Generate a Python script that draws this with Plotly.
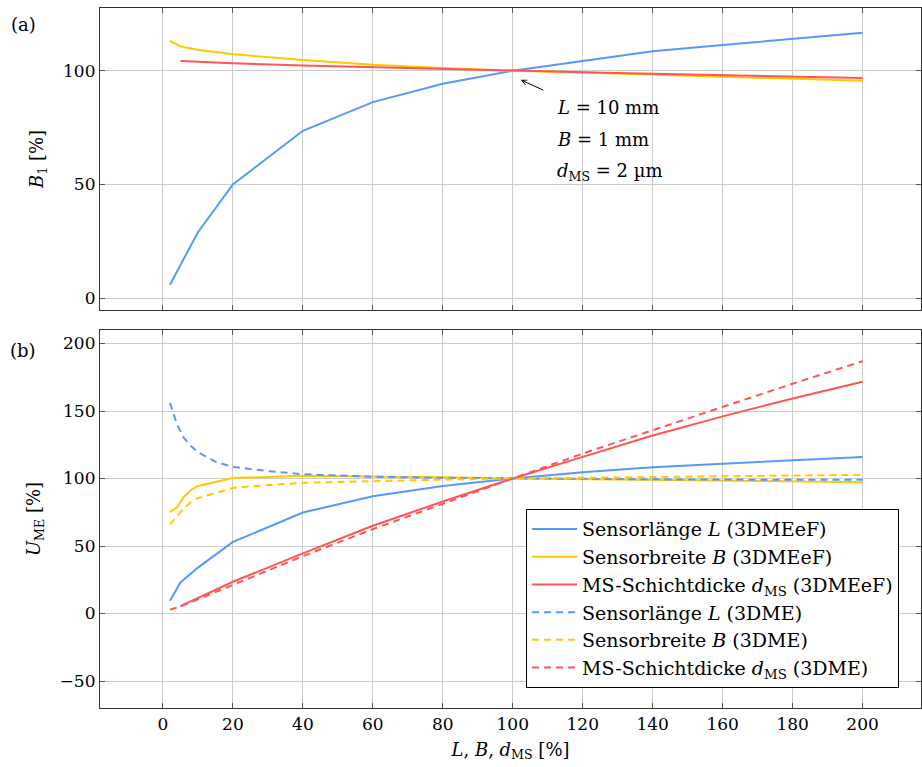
import plotly.graph_objects as go
from plotly.subplots import make_subplots

# ---------------- data ----------------
# (a) B1 [%]
x_top_L = [2, 10, 20, 40, 60, 80, 100, 120, 140, 160, 180, 200]
B1_L = [5.9, 29, 50, 73.6, 86.2, 94.3, 100, 104.4, 108.6, 111.3, 114.1, 116.7]
x_top_B = [2, 5, 10, 20, 40, 60, 80, 100, 120, 140, 160, 180, 200]
B1_B = [113.1, 110.7, 109.2, 107.3, 104.7, 102.6, 101.2, 100, 99.2, 98.3, 97.4, 96.5, 95.6]
x_top_d = [5, 20, 40, 60, 80, 100, 120, 140, 160, 180, 200]
B1_d = [104.3, 103.3, 102.3, 101.5, 100.8, 100, 99.4, 98.7, 98.1, 97.4, 96.8]

# (b) U_ME [%]  (3DMEeF = solid, 3DME = dashed)
x_L_eF = [2, 5, 10, 20, 40, 60, 80, 100, 120, 140, 160, 180, 200]
U_L_eF = [9.5, 23, 34, 53, 74.8, 86.8, 94.5, 100, 104.7, 108.3, 111, 113.7, 116]
x_B_eF = [2, 4, 6, 8, 10, 20, 40, 60, 80, 100, 120, 140, 160, 180, 200]
U_B_eF = [75.3, 78.5, 86.5, 91.5, 94.5, 100.3, 102, 101.7, 101, 100, 99.5, 99, 98.5, 97.9, 97.3]
x_d_eF = [5, 10, 20, 40, 60, 80, 100, 120, 140, 160, 180, 200]
U_d_eF = [5.5, 11.5, 23.5, 44.5, 65, 83, 100, 116, 131.9, 146, 159.3, 171.6]

x_L_3 = [2, 4, 6, 8, 10, 15, 20, 30, 40, 60, 80, 100, 120, 140, 160, 180, 200]
U_L_3 = [156, 140, 130, 124, 119.5, 112.5, 108.6, 105.5, 103.2, 101.3, 100.5, 100, 99.6, 99.4, 99.2, 99.1, 99.0]
x_B_3 = [2, 4, 6, 8, 10, 20, 30, 40, 60, 80, 100, 120, 140, 160, 180, 200]
U_B_3 = [66, 72, 78, 82.5, 85.5, 93, 95.2, 96.8, 98.2, 99.2, 100, 100.6, 101.2, 101.7, 102.2, 102.7]
x_d_3 = [2, 5, 10, 20, 40, 60, 80, 100, 120, 140, 160, 180, 200]
U_d_3 = [2.8, 5.3, 10.5, 21, 42.5, 62.5, 81.5, 100, 118.5, 136, 153, 170.2, 186.9]

x_ticks = [0, 20, 40, 60, 80, 100, 120, 140, 160, 180, 200]
y_ticks_top = [0, 50, 100]
y_ticks_bot = [-50, 0, 50, 100, 150, 200]

legend_names = [
    "Sensorlänge <i>L</i> (3DMEeF)",
    "Sensorbreite <i>B</i> (3DMEeF)",
    "MS-Schichtdicke <i>d</i><sub>MS</sub> (3DMEeF)",
    "Sensorlänge <i>L</i> (3DME)",
    "Sensorbreite <i>B</i> (3DME)",
    "MS-Schichtdicke <i>d</i><sub>MS</sub> (3DME)",
]

# ---------------- style ----------------
BLUE = "#5599ff"
YELLOW = "#ffc800"
RED = "#ff5555"
FONT = "DejaVu Serif"
FS_TICK = 17
FS = 18
FS_LEG = 19
GRID = "#cccccc"
DASH = "7px,5px"
LW = 2

fig = make_subplots(rows=2, cols=1, shared_xaxes=False)

# top panel
fig.add_trace(go.Scatter(x=x_top_L, y=B1_L, mode="lines", line=dict(color=BLUE, width=LW), showlegend=False), row=1, col=1)
fig.add_trace(go.Scatter(x=x_top_B, y=B1_B, mode="lines", line=dict(color=YELLOW, width=LW), showlegend=False), row=1, col=1)
fig.add_trace(go.Scatter(x=x_top_d, y=B1_d, mode="lines", line=dict(color=RED, width=LW), showlegend=False), row=1, col=1)

# bottom panel
series = [
    (x_L_eF, U_L_eF, BLUE, "solid"),
    (x_B_eF, U_B_eF, YELLOW, "solid"),
    (x_d_eF, U_d_eF, RED, "solid"),
    (x_L_3, U_L_3, BLUE, DASH),
    (x_B_3, U_B_3, YELLOW, DASH),
    (x_d_3, U_d_3, RED, DASH),
]
for (xs, ys, c, d), name in zip(series, legend_names):
    fig.add_trace(go.Scatter(x=xs, y=ys, mode="lines", name=name,
                             line=dict(color=c, width=LW, dash=d)), row=2, col=1)

axis_common = dict(
    showline=True, linecolor="#333333", linewidth=1.2, mirror="ticks",
    ticks="inside", ticklen=5, tickcolor="#555555", tickwidth=1,
    showgrid=True, gridcolor=GRID, gridwidth=1, zeroline=False,
    tickfont=dict(family=FONT, size=FS_TICK, color="black"),
)

X_RANGE = [-18, 216.7]
fig.update_layout(
    xaxis=dict(domain=[0, 1], anchor="y", range=X_RANGE, tickvals=x_ticks,
               showticklabels=False, **axis_common),
    yaxis=dict(domain=[0.5686, 1.0], anchor="x", range=[-5.2, 127.6], tickvals=y_ticks_top,
               title=dict(text="<i>B</i><sub>1</sub> [%]", font=dict(family=FONT, size=FS), standoff=14),
               **axis_common),
    xaxis2=dict(domain=[0, 1], anchor="y2", range=X_RANGE, tickvals=x_ticks,
                title=dict(text="<i>L</i>, <i>B</i>, <i>d</i><sub>MS</sub> [%]", font=dict(family=FONT, size=FS), standoff=10),
                **axis_common),
    yaxis2=dict(domain=[0, 0.54], anchor="x2", range=[-70, 210], tickvals=y_ticks_bot,
                title=dict(text="<i>U</i><sub>ME</sub> [%]", font=dict(family=FONT, size=FS), standoff=14),
                **axis_common),
)

fig.update_layout(
    width=922, height=767,
    margin=dict(l=100, r=1, t=8, b=59),
    paper_bgcolor="white", plot_bgcolor="white",
    font=dict(family=FONT, size=FS, color="black"),
    legend=dict(x=0.519, y=0.284, xanchor="left", yanchor="top",
                bgcolor="white", bordercolor="black", borderwidth=1, itemwidth=45,
                font=dict(family=FONT, size=FS_LEG), tracegroupgap=0),
    showlegend=True,
)

# annotations
fig.add_annotation(x=102.3, y=96.0, xref="x", yref="y", ax=24, ay=11,
                   showarrow=True, arrowhead=5, arrowsize=1, arrowwidth=1, arrowcolor="black", text="")
ann_lines = [("<i>L</i> = 10 mm", 83.7), ("<i>B</i> = 1 mm", 69.6), ("<i>d</i><sub>MS</sub> = 2 µm", 55.6)]
for t, yv in ann_lines:
    fig.add_annotation(x=112.1, y=yv, xref="x", yref="y", text=t, showarrow=False,
                       xanchor="left", yanchor="middle", font=dict(family=FONT, size=FS))

# panel labels, positioned via pixel-equivalent paper coordinates
W_plot = 922 - 100 - 1
H_plot = 767 - 8 - 59
def px_to_paper(px, py):
    return (px - 100) / W_plot, (767 - 59 - py) / H_plot
for lbl, (px, py) in [("(a)", (23, 25)), ("(b)", (23, 350))]:
    ppx, ppy = px_to_paper(px, py)
    fig.add_annotation(x=ppx, y=ppy, xref="paper", yref="paper", text=lbl, showarrow=False,
                       xanchor="center", yanchor="middle", font=dict(family=FONT, size=FS))

fig.write_html("out.html", config={"displayModeBar": False},
               post_script="document.body.style.margin='0';document.body.style.overflow='hidden';")
